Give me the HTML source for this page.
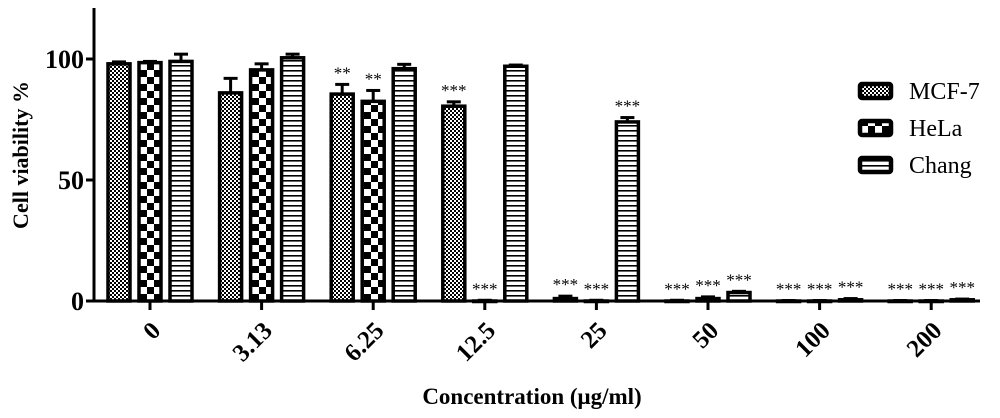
<!DOCTYPE html>
<html><head><meta charset="utf-8"><style>
html,body{margin:0;padding:0;background:#fff}
svg{display:block}
text{font-family:"Liberation Serif",serif;fill:#000}
</style></head><body>
<svg id="chart" width="1000" height="418" viewBox="0 0 1000 418">
<defs>
<pattern id="pMCF" width="4" height="4" patternUnits="userSpaceOnUse">
<rect width="4" height="4" fill="#fff"/><rect width="2" height="2" fill="#000"/><rect x="2" y="2" width="2" height="2" fill="#000"/>
</pattern>
<pattern id="pHeLa" width="14" height="14" patternUnits="userSpaceOnUse">
<rect width="14" height="14" fill="#fff"/><rect width="7" height="7" fill="#000"/><rect x="7" y="7" width="7" height="7" fill="#000"/>
</pattern>
<pattern id="pChang" width="6" height="5" patternUnits="userSpaceOnUse">
<rect width="6" height="5" fill="#fff"/><rect y="0" width="6" height="1.6" fill="#000"/>
</pattern>
</defs>
<g id="plot"></g>
<text x="0" y="0" transform="translate(28,155) rotate(-90)" text-anchor="middle" font-size="22" font-weight="bold">Cell viability %</text>
<text x="532" y="404" text-anchor="middle" font-size="23" font-weight="bold">Concentration (μg/ml)</text>
</svg>
<script>
const categories = ["0","3.13","6.25","12.5","25","50","100","200"];
const seriesNames = ["MCF-7","HeLa","Chang"];
const mcf7 = [98, 86, 85.5, 80.5, 1, 0, 0, 0];
const hela = [98.5, 95.5, 82.5, 0, 0, 1, 0, 0];
const chang = [99, 100.5, 96, 97, 74, 3.5, 0.5, 0.5];
const mcf7Err = [0.8, 6, 4, 1.8, 1, 0.3, 0.2, 0.2];
const helaErr = [0.5, 2.5, 4.5, 0.3, 0.3, 0.7, 0.2, 0.2];
const changErr = [3, 1.5, 1.8, 0.5, 1.8, 0.5, 0.5, 0.3];
const mcf7Sig = ["", "", "**", "***", "***", "***", "***", "***"];
const helaSig = ["", "", "**", "***", "***", "***", "***", "***"];
const changSig = ["", "", "", "", "***", "***", "***", "***"];
const yTicks = [0, 50, 100];

const NS = "http://www.w3.org/2000/svg";
const g = document.getElementById("plot");
const yPx = v => 301 - v * 2.42;
const xPx = i => 150 + i * 111.6;
function mk(tag, attrs, parent){ const e=document.createElementNS(NS,tag); for(const k in attrs) e.setAttribute(k,attrs[k]); (parent||g).appendChild(e); return e; }

const series = [
 {vals:mcf7, err:mcf7Err, sig:mcf7Sig, fill:"url(#pMCF)", off:-31, key:"mcf7"},
 {vals:hela, err:helaErr, sig:helaSig, fill:"url(#pHeLa)", off:0, key:"hela"},
 {vals:chang, err:changErr, sig:changSig, fill:"url(#pChang)", off:31, key:"chang"}
];
const bw = 22;
series.forEach(s => {
  s.vals.forEach((v,i) => {
    const cx = xPx(i) + s.off;
    const top = yPx(v), h = Math.max(yPx(0) - top, 0.5);
    const eTop = yPx(v + s.err[i]);
    const el = mk("line",{x1:cx,x2:cx,y1:top,y2:eTop,stroke:"#000","stroke-width":3});
    
    
    const cap = mk("line",{x1:cx-7,x2:cx+7,y1:eTop,y2:eTop,stroke:"#000","stroke-width":3});
    
    
    const r = mk("rect",{x:cx-bw/2,y:top,width:bw,height:h,fill:s.fill,stroke:"#000","stroke-width":3.5});
    
    
    if (s.sig[i]) {
      const t = mk("text",{x:cx,y:eTop-6,"text-anchor":"middle","font-size":17});
      t.textContent = s.sig[i];
      
      
    }
  });
});

// axes
const ya = mk("line",{x1:94,x2:94,y1:8,y2:302,stroke:"#000","stroke-width":3});


const xa = mk("line",{x1:86,x2:980,y1:301,y2:301,stroke:"#000","stroke-width":3});


yTicks.forEach(v => {
  const y = yPx(v);
  const tk = mk("line",{x1:86,x2:94,y1:y,y2:y,stroke:"#000","stroke-width":3});
  
  
  const t = mk("text",{x:84,y:y+9,"text-anchor":"end","font-size":26,"font-weight":"bold"});
  t.textContent = v;
  
  
});
categories.forEach((c,i) => {
  const x = xPx(i);
  const tk = mk("line",{x1:x,x2:x,y1:301,y2:310,stroke:"#000","stroke-width":3});
  
  
  const t = mk("text",{x:0,y:0,"text-anchor":"end","font-size":25,"font-weight":"bold",transform:`translate(${x+12},${332}) rotate(-45)`});
  t.textContent = c;
  
  
});

// legend
const fills = ["url(#pMCF)","url(#pHeLa)","url(#pChang)"];
const legY = [91, 128, 165];
seriesNames.forEach((n,i) => {
  const r = mk("rect",{x:860,y:legY[i]-7,width:31,height:14,fill:fills[i],stroke:"#000","stroke-width":4.5,rx:2});
  
  
  const t = mk("text",{x:909,y:legY[i]+8,"font-size":24});
  t.textContent = n;
  
  
});
</script>
</body></html>
